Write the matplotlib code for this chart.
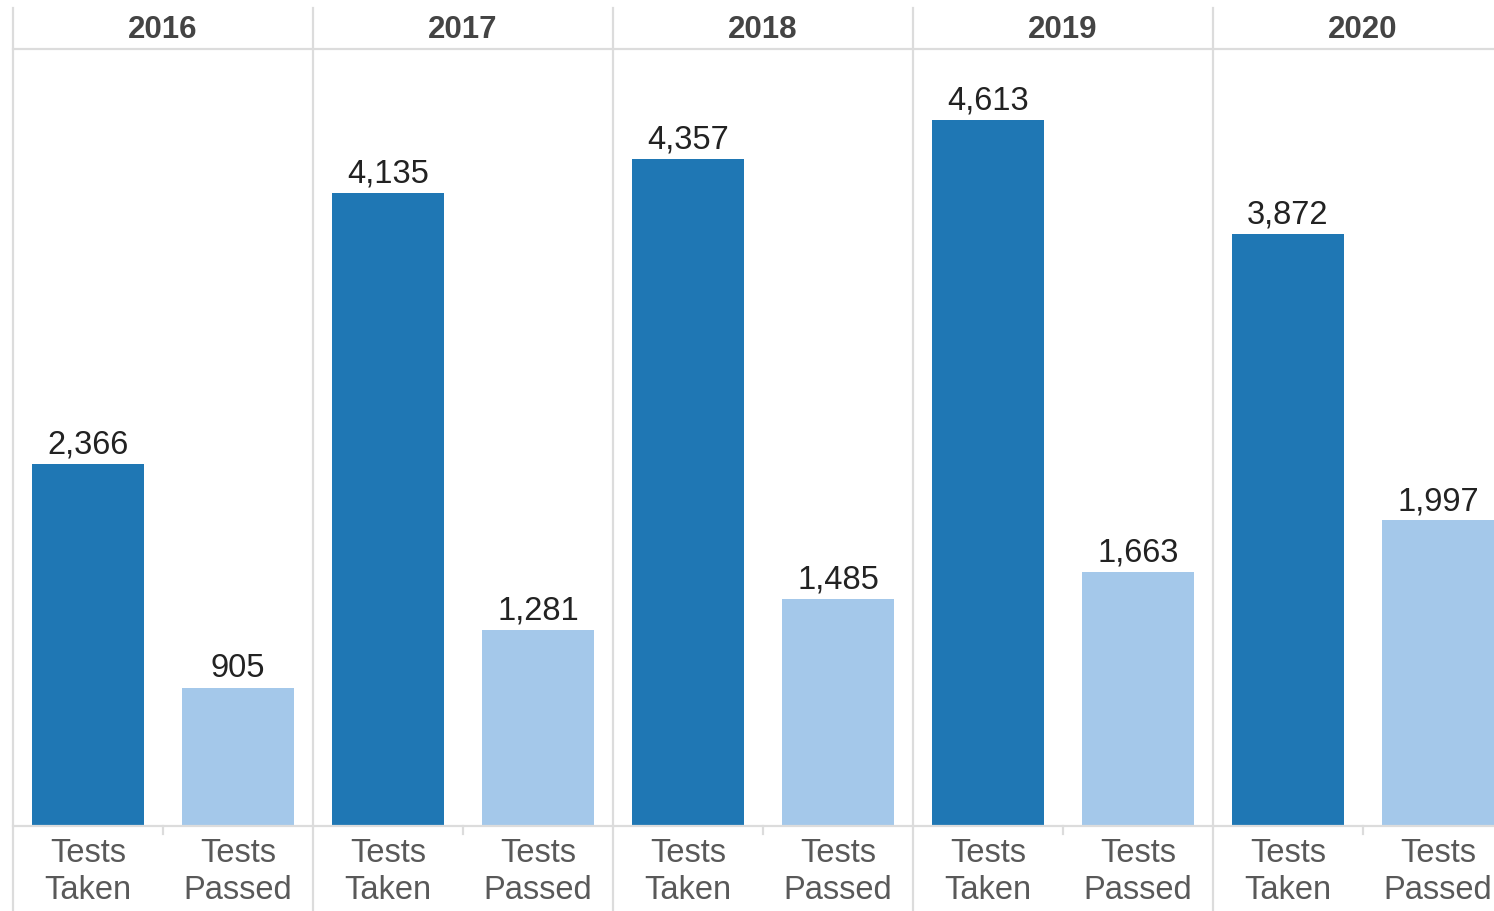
import matplotlib.pyplot as plt
import numpy as np

# データ
years = ['2016', '2017', '2018', '2019', '2020']
measures = ['Tests Taken', 'Tests Passed']
tests_taken = [2366, 4135, 4357, 4613, 3872]
tests_passed = [905, 1281, 1485, 1663, 1997]

dark_blue = '#1f77b4'
light_blue = '#a4c8ea'
line_col = '#dcdcdc'

plt.rcParams['font.family'] = ['Liberation Sans', 'DejaVu Sans']

W, H = 1494, 911
fig = plt.figure(figsize=(W / 100, H / 100), dpi=100)

# 軸の位置（ピクセル基準）
x0_px, top_px, base_px = 13, 49, 826
ax = fig.add_axes([x0_px / W, (H - base_px) / H, (W - x0_px) / W, (base_px - top_px) / H])
ax_h = base_px - top_px
scale = 0.153  # px per unit
ax.set_ylim(0, ax_h / scale)
ax.set_xlim(-0.5, -0.5 + (W - x0_px) / 150)

n = len(years)
pos_taken = np.arange(n) * 2
pos_passed = pos_taken + 1
bw = 112 / 150

b1 = ax.bar(pos_taken, tests_taken, width=bw, color=dark_blue)
b2 = ax.bar(pos_passed, tests_passed, width=bw, color=light_blue)

for bars, vals in [(b1, tests_taken), (b2, tests_passed)]:
    for rect, v in zip(bars, vals):
        ax.annotate(f'{v:,}', (rect.get_x() + rect.get_width() / 2, v),
                    xytext=(0, 7.5), textcoords='offset points',
                    ha='center', va='baseline', fontsize=23.5, color='#222222')

ax.axis('off')

# 枠線
ax.axhline(ax.get_ylim()[1], color=line_col, lw=1.6, clip_on=False)
ax.axhline(0, color=line_col, lw=1.6, clip_on=False)
ymax_f = (base_px - 8) / ax_h
ymin_f = (base_px - H) / ax_h
for i in range(n):
    ax.axvline(2 * i - 0.5, ymin=ymin_f, ymax=ymax_f, color=line_col, lw=1.6, clip_on=False)
    ax.axvline(2 * i + 0.5, ymin=-8 / ax_h, ymax=0, color=line_col, lw=1.6, clip_on=False)

# 年の見出し
trans = ax.get_xaxis_transform()
for i, yr in enumerate(years):
    ax.text(2 * i + 0.5, (base_px - 38) / ax_h, yr, transform=trans, ha='center',
            va='baseline', fontsize=22.5, fontweight='bold', color='#444444', clip_on=False)

# 下のラベル
for i in range(n):
    for j, m in enumerate(measures):
        w1, w2 = m.split(' ')
        x = 2 * i + j
        ax.text(x, (base_px - 862) / ax_h, w1, transform=trans, ha='center',
                va='baseline', fontsize=23.5, color='#595959', clip_on=False)
        ax.text(x, (base_px - 899) / ax_h, w2, transform=trans, ha='center',
                va='baseline', fontsize=23.5, color='#595959', clip_on=False)

fig.savefig('out.png', dpi=100)
